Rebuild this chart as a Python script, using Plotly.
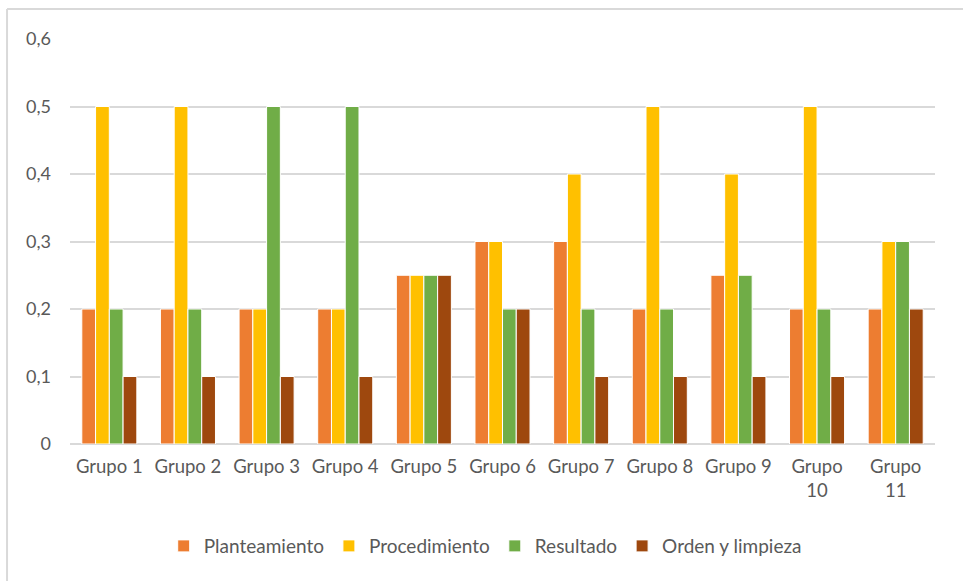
import plotly.graph_objects as go

grupos = ["Grupo 1", "Grupo 2", "Grupo 3", "Grupo 4", "Grupo 5", "Grupo 6",
          "Grupo 7", "Grupo 8", "Grupo 9", "Grupo<br>10", "Grupo<br>11"]
planteamiento = [0.2, 0.2, 0.2, 0.2, 0.25, 0.3, 0.3, 0.2, 0.25, 0.2, 0.2]
procedimiento = [0.5, 0.5, 0.2, 0.2, 0.25, 0.3, 0.4, 0.5, 0.4, 0.5, 0.3]
resultado = [0.2, 0.2, 0.5, 0.5, 0.25, 0.2, 0.2, 0.2, 0.25, 0.2, 0.3]
orden = [0.1, 0.1, 0.1, 0.1, 0.25, 0.2, 0.1, 0.1, 0.1, 0.1, 0.2]

series = [
    ("Planteamiento", planteamiento, "#ED7D31"),
    ("Procedimiento", procedimiento, "#FFC000"),
    ("Resultado", resultado, "#70AD47"),
    ("Orden y limpieza", orden, "#9E480E"),
]

fig = go.Figure()
for name, vals, color in series:
    fig.add_trace(go.Bar(
        x=grupos, y=vals, name=name,
        marker=dict(color=color, line=dict(color="white", width=1)),
    ))

fig.update_layout(
    width=963, height=581,
    margin=dict(l=70, r=28, t=39, b=137),
    paper_bgcolor="white", plot_bgcolor="white",
    separators=",.",
    barmode="group", bargap=0.3, bargroupgap=0,
    font=dict(family="Lato, Open Sans, sans-serif", size=18, color="#595959"),
    legend=dict(orientation="h", x=0.48, xanchor="center", y=-0.205, yanchor="top",
                font=dict(size=19, color="#595959"), itemwidth=30, traceorder="normal"),
    xaxis=dict(showgrid=False, showline=False, ticks="", tickfont=dict(size=18.5),
               ticklabelstandoff=9, automargin=False),
    yaxis=dict(range=[0, 0.6], dtick=0.1, showgrid=True, gridcolor="#D9D9D9",
               gridwidth=1.5, zeroline=True, zerolinecolor="#D9D9D9", zerolinewidth=1.5,
               ticks="", tickfont=dict(size=18), ticklabelstandoff=18, automargin=False),
    shapes=[
        dict(type="line", xref="paper", yref="paper", x0=-0.0728, x1=1.04,
             y0=1.074, y1=1.074, line=dict(color="#D9D9D9", width=2)),
        dict(type="line", xref="paper", yref="paper", x0=-0.0728, x1=-0.0728,
             y0=1.074, y1=-0.36, line=dict(color="#D9D9D9", width=2)),
    ],
)

fig.write_html("out.html", config={"displayModeBar": False},
               post_script="document.body.style.margin='0';")
